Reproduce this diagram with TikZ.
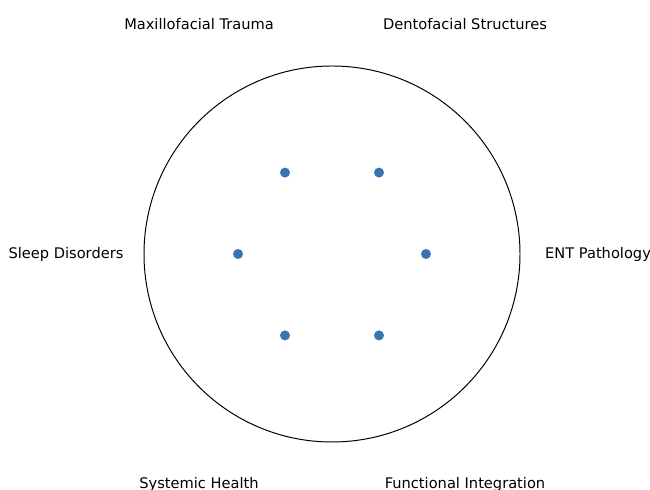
\documentclass[tikz,border=0pt]{standalone}
\usepackage{fontspec}
\setmainfont{DejaVu Sans}
\definecolor{dotblue}{RGB}{56,116,177}

\begin{document}
\begin{tikzpicture}[x=0.025cm, y=0.025cm,
    dot/.style={circle, fill=dotblue, inner sep=0pt, minimum size=7.1pt},
    lbl/.style={font=\fontsize{10.4}{12}\selectfont, inner sep=0pt}]
    \useasboundingbox (0,0) rectangle (650,490);
    \clip (0,0) rectangle (650,490);
    \begin{scope}[shift={(332,236)}]
      \coordinate (c) at (0,0);
      \draw[line width=0.7pt] (c) circle (188);
      \foreach \ang/\txt [count=\i] in {0/ENT Pathology, 60/Dentofacial Structures,
          120/Maxillofacial Trauma, 180/Sleep Disorders, 240/Systemic Health,
          300/Functional Integration} {
        \node[dot] (d\i) at (\ang:94) {};
        \node[lbl] (l\i) at (\ang:266) {\txt};
      }
    \end{scope}
  \end{tikzpicture}
\end{document}
